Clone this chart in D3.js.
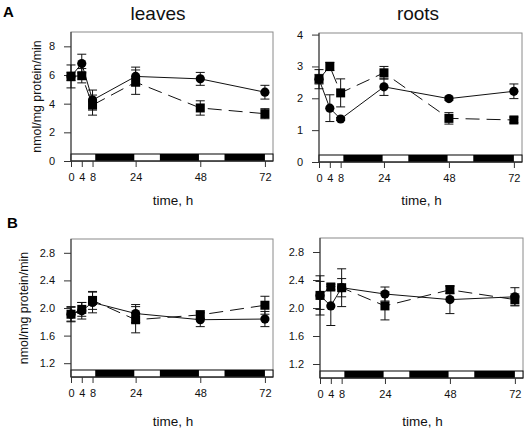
<!DOCTYPE html>
<html><head><meta charset="utf-8">
<script src="https://cdn.jsdelivr.net/npm/d3@7"></script>
<style>
body{margin:0;background:#fff;}
svg{display:block;font-family:"Liberation Sans",Arial,sans-serif;}
</style></head>
<body><svg id="c" width="527" height="429"></svg>
<script>
const times = [0, 4, 8, 24, 48, 72];
const xTickLabels = [0, 4, 8, 24, 48, 72];
const darkPeriods = [[9, 23.5], [33, 47.5], [57, 72]];

const leavesA_circle = [5.9, 6.8, 4.25, 5.9, 5.73, 4.8];
const leavesA_circleErr = [0.8, 0.65, 0.7, 0.65, 0.45, 0.48];
const leavesA_square = [5.9, 5.95, 3.9, 5.5, 3.7, 3.3];
const leavesA_squareErr = [0.3, 0.5, 0.7, 0.85, 0.5, 0.35];

const rootsA_circle = [2.6, 1.69, 1.35, 2.36, 1.99, 2.22];
const rootsA_circleErr = [0.3, 0.42, 0.05, 0.27, 0.05, 0.23];
const rootsA_square = [2.6, 3.0, 2.17, 2.8, 1.37, 1.32];
const rootsA_squareErr = [0.15, 0.13, 0.44, 0.2, 0.18, 0.09];

const leavesB_circle = [1.91, 1.96, 2.08, 1.92, 1.83, 1.84];
const leavesB_circleErr = [0.11, 0.12, 0.15, 0.13, 0.1, 0.11];
const leavesB_square = [1.91, 1.98, 2.11, 1.83, 1.90, 2.04];
const leavesB_squareErr = [0.1, 0.1, 0.13, 0.19, 0.06, 0.13];

const rootsB_circle = [2.18, 2.03, 2.29, 2.20, 2.12, 2.16];
const rootsB_circleErr = [0.28, 0.28, 0.27, 0.1, 0.2, 0.13];
const rootsB_square = [2.18, 2.30, 2.29, 2.03, 2.26, 2.12];
const rootsB_squareErr = [0.2, 0.04, 0.13, 0.2, 0.05, 0.08];

const ticksA_leaves = [0, 2, 4, 6, 8];
const ticksA_roots = [0, 1, 2, 3, 4];
const ticksB = [1.2, 1.6, 2.0, 2.4, 2.8];

const svg = d3.select("#c");

const panels = [
  {l:71, r:273, t:32, b:161, yd:[0,9], ticks:ticksA_leaves, fmt:d3.format("d"),
   circ:leavesA_circle, circE:leavesA_circleErr, sq:leavesA_square, sqE:leavesA_squareErr,
   title:"leaves", titleX:158, ytitleX:41, xlabY:205},
  {l:319, r:522, t:33, b:162, yd:[0,4.05], ticks:ticksA_roots, fmt:d3.format("d"),
   circ:rootsA_circle, circE:rootsA_circleErr, sq:rootsA_square, sqE:rootsA_squareErr,
   title:"roots", titleX:418, ytitleX:null, xlabY:205},
  {l:71, r:273, t:239, b:377, yd:[1,3], ticks:ticksB, fmt:d3.format(".1f"),
   circ:leavesB_circle, circE:leavesB_circleErr, sq:leavesB_square, sqE:leavesB_squareErr,
   title:null, ytitleX:28, xlabY:426},
  {l:320, r:523, t:238, b:378, yd:[1,3], ticks:ticksB, fmt:d3.format(".1f"),
   circ:rootsB_circle, circE:rootsB_circleErr, sq:rootsB_square, sqE:rootsB_squareErr,
   title:null, ytitleX:null, xlabY:426}
];

panels.forEach(p => {
  const x = d3.scaleLinear().domain([0,75]).range([p.l, p.r]);
  const y = d3.scaleLinear().domain(p.yd).range([p.b, p.t]);
  const g = svg.append("g");

  // frame
  g.append("rect").attr("x", p.l).attr("y", p.t).attr("width", p.r - p.l).attr("height", p.b - p.t)
    .attr("fill", "none").attr("stroke", "#8a8a8a").attr("stroke-width", 1);

  // light/dark bar
  const barH = 7;
  g.append("rect").attr("x", p.l).attr("y", p.b - barH).attr("width", p.r - p.l).attr("height", barH)
    .attr("fill", "#fff").attr("stroke", "#000").attr("stroke-width", 1);
  darkPeriods.forEach(d => {
    g.append("rect").attr("x", x(d[0])).attr("y", p.b - barH).attr("width", x(d[1]) - x(d[0])).attr("height", barH)
      .attr("fill", "#000");
  });

  // y axis
  const ya = g.append("g").attr("transform", `translate(${p.l},0)`)
    .call(d3.axisLeft(y).tickValues(p.ticks).tickFormat(p.fmt).tickSize(7).tickPadding(9));
  ya.select(".domain").attr("stroke", "#333").attr("d", `M0,${p.t}V${p.b}`);
  ya.selectAll(".tick line").attr("stroke", "#333");
  ya.selectAll("text").attr("font-size", 11).attr("font-family", "Liberation Sans, Arial, sans-serif").attr("fill", "#111");

  // x axis
  const xa = g.append("g").attr("transform", `translate(0,${p.b})`)
    .call(d3.axisBottom(x).tickValues(xTickLabels).tickFormat(d3.format("d")).tickSize(6).tickPadding(6));
  xa.select(".domain").attr("stroke", "#333").attr("d", `M${p.l},0H${p.r}`);
  xa.selectAll(".tick line").attr("stroke", "#333");
  xa.selectAll("text").attr("font-size", 11).attr("font-family", "Liberation Sans, Arial, sans-serif").attr("fill", "#111");

  // axis titles
  g.append("text").attr("x", (p.l + p.r) / 2 + 1).attr("y", p.xlabY).attr("text-anchor", "middle")
    .attr("font-size", 13.5).attr("fill", "#111").text("time, h");
  if (p.ytitleX !== null) {
    g.append("text").attr("transform", `translate(${p.ytitleX},${(p.t + p.b) / 2}) rotate(-90)`)
      .attr("text-anchor", "middle").attr("font-size", 12.4).attr("fill", "#111").text("nmol/mg protein/min");
  }
  if (p.title) {
    g.append("text").attr("x", p.titleX).attr("y", 20).attr("text-anchor", "middle")
      .attr("font-size", 19).attr("fill", "#111").text(p.title);
  }

  const line = d3.line().x((d,i) => x(times[i])).y(d => y(d));
  // lines
  g.append("path").datum(p.circ).attr("d", line).attr("fill", "none").attr("stroke", "#111").attr("stroke-width", 1);
  g.append("path").datum(p.sq).attr("d", line).attr("fill", "none").attr("stroke", "#111").attr("stroke-width", 1)
    .attr("stroke-dasharray", "14,7");

  // error bars
  const drawErr = (vals, errs) => {
    vals.forEach((v, i) => {
      const cx = x(times[i]), y1 = y(v + errs[i]), y2 = y(v - errs[i]);
      g.append("line").attr("x1", cx).attr("x2", cx).attr("y1", y1).attr("y2", y2).attr("stroke", "#111");
      [y1, y2].forEach(yy => g.append("line").attr("x1", cx - 4.5).attr("x2", cx + 4.5)
        .attr("y1", yy).attr("y2", yy).attr("stroke", "#111"));
    });
  };
  drawErr(p.circ, p.circE);
  drawErr(p.sq, p.sqE);

  // markers
  g.selectAll(null).data(p.sq).enter().append("rect")
    .attr("x", (d,i) => x(times[i]) - 4.5).attr("y", d => y(d) - 4.5)
    .attr("width", 9).attr("height", 9).attr("fill", "#000");
  g.selectAll(null).data(p.circ).enter().append("circle")
    .attr("cx", (d,i) => x(times[i])).attr("cy", d => y(d)).attr("r", 4.6).attr("fill", "#000");
});

// panel letters
svg.append("text").attr("x", 3).attr("y", 16.5).attr("font-size", 15).attr("font-weight", "bold").attr("fill", "#000").text("A");
svg.append("text").attr("x", 7).attr("y", 228).attr("font-size", 15).attr("font-weight", "bold").attr("fill", "#000").text("B");
</script>
</body></html>
